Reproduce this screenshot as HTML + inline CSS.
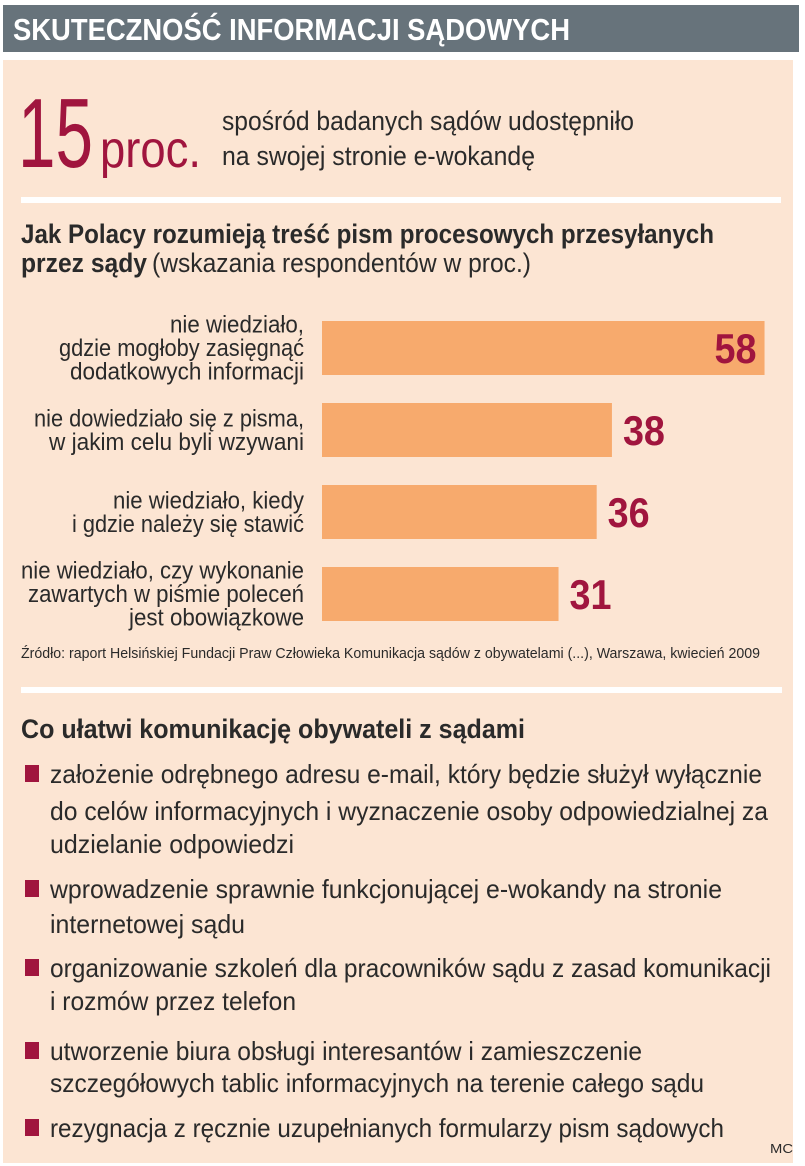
<!DOCTYPE html>
<html><head><meta charset="utf-8"><style>
html,body{margin:0;padding:0;background:#fff;width:805px;height:1166px;overflow:hidden}
svg{display:block}
text{font-family:"Liberation Sans Narrow","Liberation Sans",sans-serif}
</style></head><body>
<svg id="chart" width="805" height="1166" viewBox="0 0 805 1166" xmlns="http://www.w3.org/2000/svg">
<rect x="3" y="5" width="796" height="47" fill="#67737b"/>
<text x="13" y="40" font-size="31" font-weight="bold" fill="#fff" textLength="557" lengthAdjust="spacingAndGlyphs">SKUTECZNOŚĆ INFORMACJI SĄDOWYCH</text>
<rect x="3" y="60" width="790" height="1103" fill="#fce5d3"/>
<text x="18" y="167" font-size="98" fill="#a0153e" textLength="75" lengthAdjust="spacingAndGlyphs">15</text>
<text x="100" y="167" font-size="52" fill="#a0153e" textLength="101" lengthAdjust="spacingAndGlyphs">proc.</text>
<text x="222" y="130" font-size="27" fill="#2a2a2a" textLength="412" lengthAdjust="spacingAndGlyphs">spośród badanych sądów udostępniło</text>
<text x="222" y="165" font-size="27" fill="#2a2a2a" textLength="313" lengthAdjust="spacingAndGlyphs">na swojej stronie e-wokandę</text>
<rect x="21" y="197" width="760" height="6" fill="#fff"/>
<text x="21" y="243" font-size="27" font-weight="bold" fill="#2a2a2a" textLength="693" lengthAdjust="spacingAndGlyphs">Jak Polacy rozumieją treść pism procesowych przesyłanych</text>
<text x="21" y="272" font-size="27" font-weight="bold" fill="#2a2a2a" textLength="126" lengthAdjust="spacingAndGlyphs">przez sądy</text>
<text x="152" y="272" font-size="27" fill="#2a2a2a" textLength="379" lengthAdjust="spacingAndGlyphs">(wskazania respondentów w proc.)</text>
<g id="bars"></g>
<text x="21" y="658" font-size="15" fill="#2a2a2a" textLength="739" lengthAdjust="spacingAndGlyphs">Źródło: raport Helsińskiej Fundacji Praw Człowieka Komunikacja sądów z obywatelami (...), Warszawa, kwiecień 2009</text>
<rect x="21" y="687" width="761" height="6" fill="#fff"/>
<text x="21" y="738" font-size="27" font-weight="bold" fill="#2a2a2a" textLength="504" lengthAdjust="spacingAndGlyphs">Co ułatwi komunikację obywateli z sądami</text>
<g id="bullets"></g>
<text x="770" y="1153" font-size="13" fill="#2a2a2a" textLength="23" lengthAdjust="spacingAndGlyphs">MC</text>
</svg>
<script>
const categories = [
  ["nie wiedziało,","gdzie mogłoby zasięgnąć","dodatkowych informacji"],
  ["nie dowiedziało się z pisma,","w jakim celu byli wzywani"],
  ["nie wiedziało, kiedy","i gdzie należy się stawić"],
  ["nie wiedziało, czy wykonanie","zawartych w piśmie poleceń","jest obowiązkowe"]
];
const values = [58, 38, 36, 31];
const valueLabels = ["58", "38", "36", "31"];
const labelWidths = [[134,245,234],[270,255],[191,232],[283,276,175]];

const NS = "http://www.w3.org/2000/svg";
const x0 = 322, unit = 7.63;
function xScale(v){ return x0 + v * unit; }
function yBand(i){ return 321 + i * 82; }
const barH = 54;
const g = document.getElementById("bars");
const maxV = Math.max(...values);
values.forEach((v, i) => {
  const y = yBand(i);
  const r = document.createElementNS(NS, "rect");
  r.setAttribute("x", x0); r.setAttribute("y", y);
  r.setAttribute("width", xScale(v) - x0); r.setAttribute("height", barH);
  r.setAttribute("fill", "#f7aa6d");
  
  
  g.appendChild(r);
  const t = document.createElementNS(NS, "text");
  const inside = v === maxV;
  t.setAttribute("x", inside ? xScale(v) - 8 : xScale(v) + 11);
  t.setAttribute("text-anchor", inside ? "end" : "start");
  t.setAttribute("y", y + 42);
  t.setAttribute("font-size", "42"); t.setAttribute("font-weight", "bold");
  t.setAttribute("fill", "#a0153e");
  t.setAttribute("textLength", "42"); t.setAttribute("lengthAdjust", "spacingAndGlyphs");
  t.textContent = valueLabels[i];
  
  
  g.appendChild(t);
  const lines = categories[i];
  const lh = 23.5;
  const cy = y + barH / 2;
  lines.forEach((ln, j) => {
    const lt = document.createElementNS(NS, "text");
    const w = (labelWidths[i] && labelWidths[i][j]) || 200;
    lt.setAttribute("x", 304 - w);
    lt.setAttribute("y", cy + (j - (lines.length - 1) / 2) * lh + 8);
    lt.setAttribute("font-size", "24"); lt.setAttribute("fill", "#2a2a2a");
    lt.setAttribute("textLength", w); lt.setAttribute("lengthAdjust", "spacingAndGlyphs");
    lt.textContent = ln;
    
    
    g.appendChild(lt);
  });
});

const bulletItems = [
  [["założenie odrębnego adresu e-mail, który będzie służył wyłącznie",783,712],["do celów informacyjnych i wyznaczenie osoby odpowiedzialnej za",820,718],["udzielanie odpowiedzi",853,244]],
  [["wprowadzenie sprawnie funkcjonującej e-wokandy na stronie",898,672],["internetowej sądu",933,195]],
  [["organizowanie szkoleń dla pracowników sądu z zasad komunikacji",977,721],["i rozmów przez telefon",1010,246]],
  [["utworzenie biura obsługi interesantów i zamieszczenie",1060,592],["szczegółowych tablic informacyjnych na terenie całego sądu",1092,654]],
  [["rezygnacja z ręcznie uzupełnianych formularzy pism sądowych",1137,674]]
];
const bg = document.getElementById("bullets");
bulletItems.forEach((item, i) => {
  const sq = document.createElementNS(NS, "rect");
  sq.setAttribute("x", 25); sq.setAttribute("y", item[0][1] - 18);
  sq.setAttribute("width", 14); sq.setAttribute("height", 17);
  sq.setAttribute("fill", "#a0153e");
  
  
  bg.appendChild(sq);
  item.forEach(([txt, y, w]) => {
    const t = document.createElementNS(NS, "text");
    t.setAttribute("x", 50); t.setAttribute("y", y);
    t.setAttribute("font-size", "26"); t.setAttribute("fill", "#2a2a2a");
    t.setAttribute("textLength", w); t.setAttribute("lengthAdjust", "spacingAndGlyphs");
    t.textContent = txt;
    
    
    bg.appendChild(t);
  });
});
</script>
</body></html>
